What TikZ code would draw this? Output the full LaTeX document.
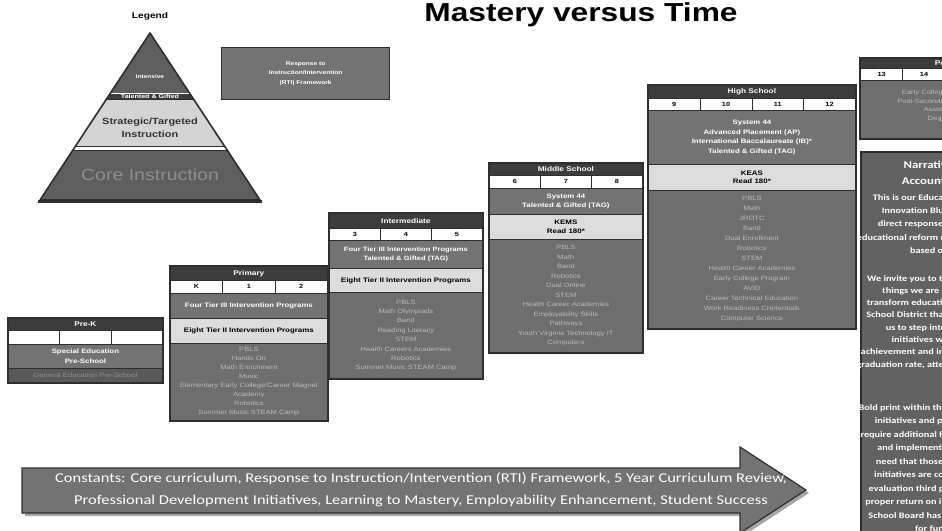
\documentclass[tikz,border=0pt]{standalone}
\usepackage{fontspec}
\setmainfont[FakeStretch=1.22]{Liberation Sans}
\newfontfamily\calfont[FakeStretch=1.22]{Carlito}
\usetikzlibrary{calc}

\definecolor{hdr}{HTML}{3C3C3C}
\definecolor{midg}{HTML}{737373}
\definecolor{lightg}{HTML}{DCDCDC}
\definecolor{listg}{HTML}{6E6E6E}
\definecolor{listtxt}{HTML}{BABABA}
\definecolor{edge}{HTML}{2E2E2E}
\definecolor{pyrdark}{HTML}{5E5E5E}
\definecolor{pyrlight}{HTML}{D4D4D4}
\definecolor{coretxt}{HTML}{8E8E8E}
\definecolor{narr}{HTML}{626262}

\tikzset{
 band/.style={draw=edge, line width=0.8pt, inner sep=0pt, anchor=north west, align=center},
 hdrbar/.style={band, fill=hdr, text=white, font=\bfseries\fontsize{6.8}{7}\selectfont},
 cellbox/.style={band, fill=white, text=black, font=\bfseries\fontsize{6}{6}\selectfont},
 tierthree/.style={band, fill=midg, text=white, font=\bfseries\fontsize{6.4}{9.5}\selectfont},
 tiertwo/.style={band, fill=lightg, text=black, font=\bfseries\fontsize{6.5}{8.5}\selectfont},
 listbox/.style={band, fill=listg, text=listtxt, font=\fontsize{6.2}{9.4}\selectfont},
 genbox/.style={band, fill=hdr!85, text=coretxt, font=\fontsize{6.3}{7}\selectfont},
 frame/.style={draw=edge, line width=1.5pt},
 pyrtext/.style={inner sep=0pt, align=center},
 narrtext/.style={inner sep=0pt, align=center, text=white, font=\calfont\bfseries\fontsize{8.4}{12.3}\selectfont},
}

\newcommand\blk[7]{\node[#6, minimum width=#4pt, minimum height=#5pt] (#1) at (#2,#3) {#7};}

\begin{document}
\begin{tikzpicture}[x=1pt,y=-1pt]
\useasboundingbox (0,0) rectangle (942,530);
\clip (0,0) rectangle (942,530);
\fill[white] (0,0) rectangle (942,530);

% ---------- title and legend ----------
\node[anchor=base, inner sep=0pt, font=\bfseries\fontsize{26}{28}\selectfont] (title) at (581,21) {Mastery versus Time};
\node[anchor=base, inner sep=0pt, font=\bfseries\fontsize{8.3}{9}\selectfont] (legend) at (150,19) {Legend};

% ---------- pyramid ----------
\fill[pyrdark] (150,33) -- (110.5,93) -- (189.5,93) -- cycle;
\fill[hdr] (110.5,93) -- (189.5,93) -- (193.5,99) -- (106.5,99) -- cycle;
\draw[white, line width=0.8pt] (110.5,93.5) -- (189.5,93.5);
\fill[pyrlight] (106.5,99) -- (193.5,99) -- (224.4,146) -- (75.6,146) -- cycle;
\draw[edge, line width=0.8pt] (106.5,99.5) -- (193.5,99.5);
\fill[white] (75.6,146) -- (224.4,146) -- (227.1,150) -- (72.9,150) -- cycle;
\draw[edge, line width=0.8pt] (75.6,146) -- (224.4,146);
\fill[pyrdark] (72.9,150) -- (227.1,150) -- (260,200) -- (40,200) -- cycle;
\draw[edge, line width=0.8pt] (72.9,150) -- (227.1,150);
\draw[edge, line width=1.6pt, line join=round] (150,33) -- (260,200) -- (40,200) -- cycle;
\draw[edge, line width=3pt] (38,201) -- (262,201);
\node[pyrtext, text=white, font=\bfseries\fontsize{5.3}{6}\selectfont] (pint) at (150,77) {Intensive};
\node[pyrtext, text=white, font=\bfseries\fontsize{5.8}{6}\selectfont] (ptag) at (150,96) {Talented \& Gifted};
\node[pyrtext, text=black!80, font=\bfseries\fontsize{9}{12.5}\selectfont] (pstr) at (150,128) {Strategic/Targeted\\Instruction};
\node[pyrtext, text=coretxt, font=\fontsize{16}{17}\selectfont] (pcore) at (150,175) {Core Instruction};

% ---------- RTI legend box ----------
\node[draw=edge, line width=1.2pt, fill=midg, minimum width=168pt, minimum height=52pt, anchor=north west, inner sep=0pt, align=center, text=white, font=\bfseries\fontsize{5.4}{9.5}\selectfont] (rti) at (221,47) {Response to\\Instruction/Intervention\\(RTI) Framework};

% ---------- Pre-K ----------
\blk{pk-h}{8}{318}{154}{12}{hdrbar}{Pre-K}
\blk{pk-c1}{8}{330}{51.33}{14}{cellbox}{}
\blk{pk-c2}{59.33}{330}{51.33}{14}{cellbox}{}
\blk{pk-c3}{110.67}{330}{51.33}{14}{cellbox}{}
\blk{pk-s}{8}{344}{154}{24}{tierthree}{Special Education\\Pre-School}
\blk{pk-g}{8}{368}{154}{14}{genbox}{General Education Pre-School}
\draw[frame] (pk-h.north west) rectangle (pk-g.south east);

% ---------- Primary ----------
\blk{pr-h}{170}{266}{157}{14}{hdrbar}{Primary}
\blk{pr-c1}{170}{280}{52.33}{13}{cellbox}{K}
\blk{pr-c2}{222.33}{280}{52.33}{13}{cellbox}{1}
\blk{pr-c3}{274.67}{280}{52.33}{13}{cellbox}{2}
\blk{pr-t3}{170}{293}{157}{25}{tierthree}{Four Tier III Intervention Programs}
\blk{pr-t2}{170}{318}{157}{25}{tiertwo}{Eight Tier II Intervention Programs}
\blk{pr-l}{170}{343}{157}{77}{listbox, font=\fontsize{6.2}{9}\selectfont}{PBLS\\Hands On\\Math Enrichment\\Music\\Elementary Early College/Career Magnet\\Academy\\Robotics\\Summer Music STEAM Camp}
\draw[frame] (pr-h.north west) rectangle (pr-l.south east);

% ---------- Intermediate ----------
\blk{in-h}{329}{213}{153}{15}{hdrbar}{Intermediate}
\blk{in-c1}{329}{228}{51}{12}{cellbox}{3}
\blk{in-c2}{380}{228}{51}{12}{cellbox}{4}
\blk{in-c3}{431}{228}{51}{12}{cellbox}{5}
\blk{in-t3}{329}{240}{153}{28}{tierthree, font=\bfseries\fontsize{6.2}{9}\selectfont}{Four Tier III Intervention Programs\\Talented \& Gifted (TAG)}
\blk{in-t2}{329}{268}{153}{24}{tiertwo}{Eight Tier II Intervention Programs}
\blk{in-l}{329}{292}{153}{86}{listbox}{PBLS\\Math Olympiads\\Band\\Reading Literacy\\STEM\\Health Careers Academies\\Robotics\\Summer Music STEAM Camp}
\draw[frame] (in-h.north west) rectangle (in-l.south east);

% ---------- Middle School ----------
\blk{ms-h}{489}{163}{153}{12}{hdrbar}{Middle School}
\blk{ms-c1}{489}{175}{51}{13}{cellbox}{6}
\blk{ms-c2}{540}{175}{51}{13}{cellbox}{7}
\blk{ms-c3}{591}{175}{51}{13}{cellbox}{8}
\blk{ms-t3}{489}{188}{153}{26}{tierthree}{System 44\\Talented \& Gifted (TAG)}
\blk{ms-t2}{489}{214}{153}{25}{tiertwo}{KEMS\\Read 180*}
\blk{ms-l}{489}{239}{153}{113}{listbox, font=\fontsize{6.2}{9.5}\selectfont}{PBLS\\Math\\Band\\Robotics\\Dual Online\\STEM\\Health Career Academies\\Employability Skills\\Pathways\\Youth Virginia Technology IT\\Computers}
\draw[frame] (ms-h.north west) rectangle (ms-l.south east);

% ---------- High School ----------
\blk{hs-h}{648}{85}{207}{13}{hdrbar}{High School}
\blk{hs-c1}{648}{98}{51.75}{12}{cellbox}{9}
\blk{hs-c2}{699.75}{98}{51.75}{12}{cellbox}{10}
\blk{hs-c3}{751.5}{98}{51.75}{12}{cellbox}{11}
\blk{hs-c4}{803.25}{98}{51.75}{12}{cellbox}{12}
\blk{hs-t3}{648}{110}{207}{54}{tierthree}{System 44\\Advanced Placement (AP)\\International Baccalaureate (IB)*\\Talented \& Gifted (TAG)}
\blk{hs-t2}{648}{164}{207}{26}{tiertwo}{KEAS\\Read 180*}
\blk{hs-l}{648}{190}{207}{138}{listbox, font=\fontsize{6.2}{10}\selectfont}{PBLS\\Math\\JROTC\\Band\\Dual Enrollment\\Robotics\\STEM\\Health Career Academies\\Early College Program\\AVID\\Career Technical Education\\Work Readiness Credentials\\Computer Science}
\draw[frame] (hs-h.north west) rectangle (hs-l.south east);

% ---------- Post-Secondary ----------
\blk{ps-h}{860}{58}{212}{10}{hdrbar}{Post-Secondary}
\blk{ps-c1}{860}{68}{42.4}{12}{cellbox}{13}
\blk{ps-c2}{902.4}{68}{42.4}{12}{cellbox}{14}
\blk{ps-c3}{944.8}{68}{127.2}{12}{cellbox}{}
\blk{ps-b}{860}{80}{212}{58}{listbox}{}
\node[inner sep=0pt, align=center, text=listtxt, font=\fontsize{6.2}{8.5}\selectfont] (ps-txt) at (940,106) {Early College Program\\Post-Secondary Scholars\\Associate\\Degree};
\draw[frame] (ps-h.north west) rectangle (ps-b.south east);

% ---------- Narrative ----------
\node[draw=edge, line width=1.5pt, fill=narr, minimum width=180pt, minimum height=400pt, anchor=north west, inner sep=0pt] (narr) at (860,151) {};
\node[narrtext, font=\calfont\bfseries\fontsize{10.5}{16}\selectfont, anchor=north] (narr-t) at (940,161) {Narrative and\\Accountability};
\node[narrtext, font=\calfont\bfseries\fontsize{8.4}{13.3}\selectfont, anchor=north] (narr-p1) at (940,194) {This is our Educational Plan and\\Innovation Blueprint, and a\\direct response to the call for\\educational reform needed in our state\\based on data};
\node[narrtext, anchor=north] (narr-p2) at (940,275) {We invite you to take a look at the\\things we are doing to help\\transform education in the County\\School District that will allow all of\\us to step into the future.\\initiatives will improve\\achievement and increase the overall\\graduation rate, attendance, and more.};
\node[narrtext, font=\calfont\bfseries\fontsize{8.4}{13.5}\selectfont, anchor=north] (narr-p3) at (940,404) {Bold print within the document shows\\initiatives and programs which\\require additional funding to develop\\and implement. It is with this\\need that those programs and\\initiatives are constantly under\\evaluation third party to ensure a\\proper return on investment as the\\School Board has approved them.\\for funding.};

% ---------- Constants arrow ----------
\fill[black!35] (25,471) -- (743,471) -- (743,450) -- (809,493) -- (743,536) -- (743,516) -- (25,516) -- cycle;
\draw[edge, line width=1.2pt, fill=midg, line join=miter] (22,468) -- (740,468) -- (740,447) -- (806,490) -- (740,533) -- (740,513) -- (22,513) -- cycle;
\node[inner sep=0pt, align=center, text=white, font=\calfont\fontsize{13.5}{22}\selectfont] (const) at (421,490) {Constants: Core curriculum, Response to Instruction/Intervention (RTI) Framework, 5 Year Curriculum Review,\\Professional Development Initiatives, Learning to Mastery, Employability Enhancement, Student Success};
\end{tikzpicture}
\end{document}
